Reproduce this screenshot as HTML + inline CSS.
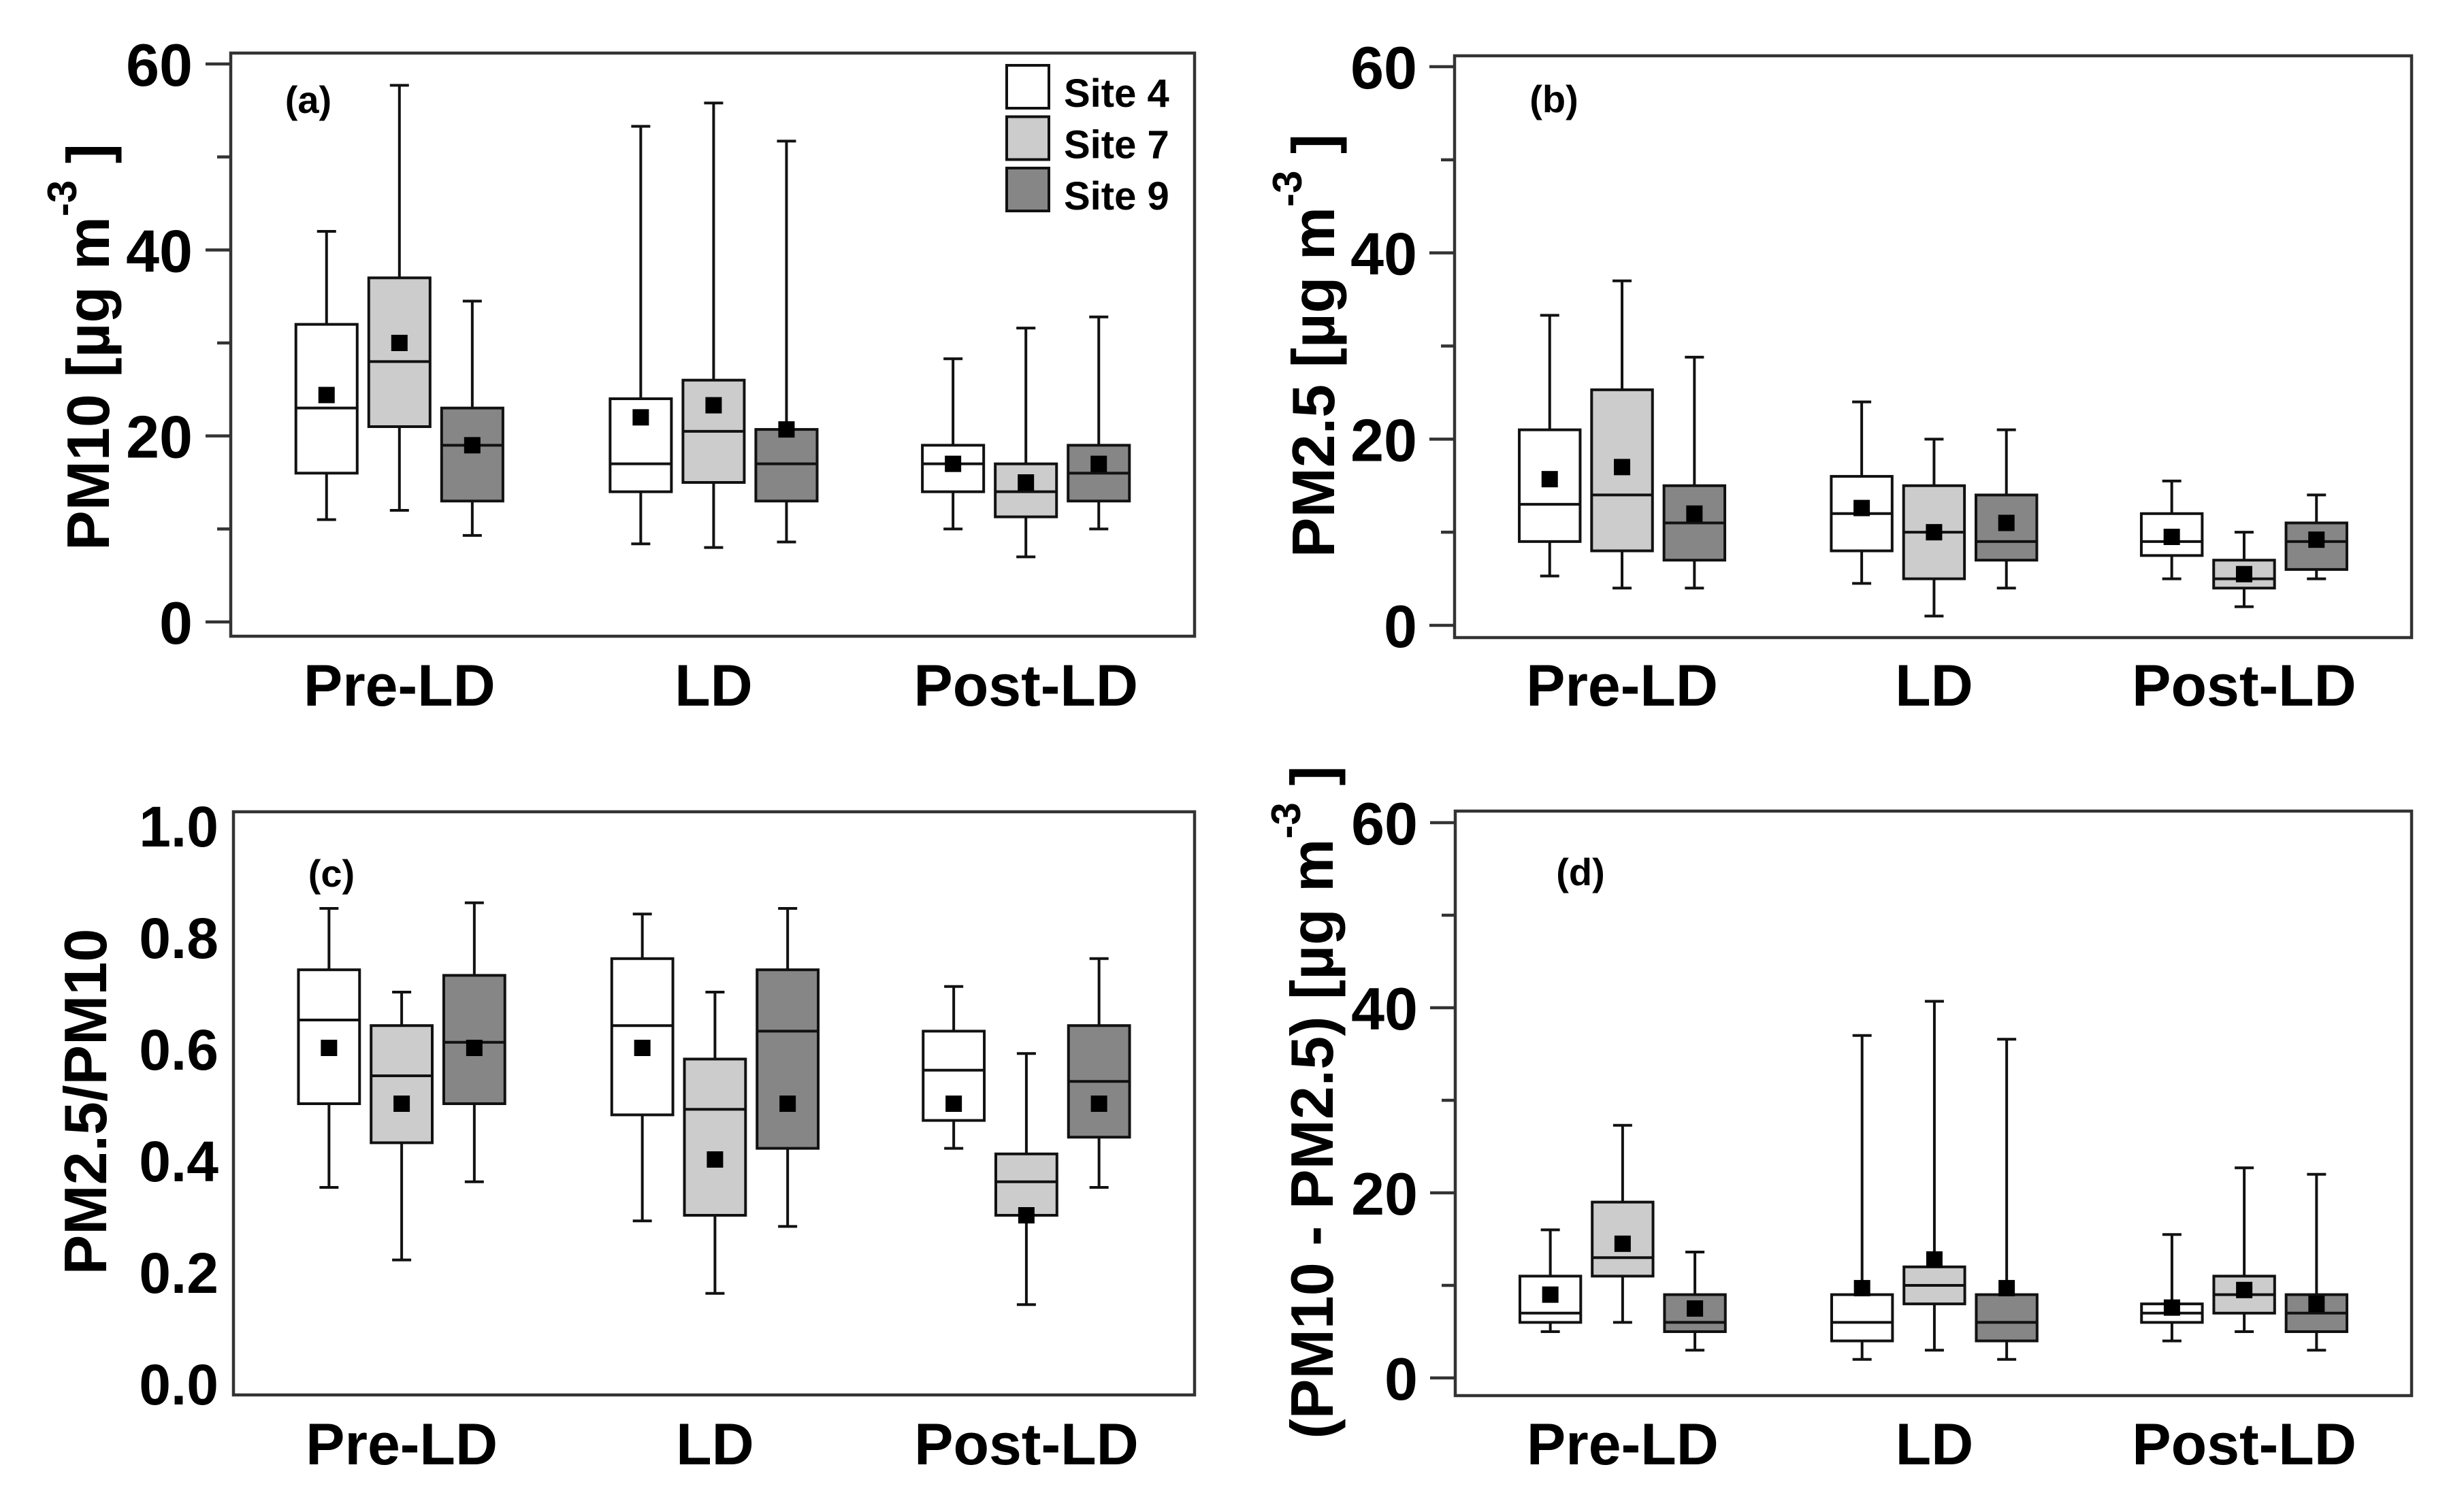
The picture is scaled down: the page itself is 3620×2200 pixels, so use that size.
<!DOCTYPE html>
<html><head><meta charset="utf-8"><style>
html,body{margin:0;padding:0;background:#fff}
svg{display:block}
text{font-family:"Liberation Sans",Arial,sans-serif;font-weight:bold;fill:#000}
</style></head><body>
<svg id="fig" width="3620" height="2200" viewBox="0 0 3620 2200" xmlns="http://www.w3.org/2000/svg"></svg>
<script>
const categories = ["Pre-LD","LD","Post-LD"];
const sites = ["Site 4","Site 7","Site 9"];
// each box: [max, q3, median, q1, min, mean], order: Pre(S4,S7,S9), LD(...), Post(...)
const pm10Data = [
 [42,32,23,16,11,24.4],[57.7,37,28,21,12,30],[34.5,23,19,13,9.3,19],
 [53.3,24,17,14,8.4,22],[55.8,26,20.5,15,8,23.3],[51.7,20.7,17,13,8.6,20.7],
 [28.3,19,17,14,10,17],[31.6,17,14,11.3,7,15],[32.8,19,16,13,10,17]];
const pm25Data = [
 [33.3,21,13,9,5.3,15.7],[37,25.3,14,8,4,17],[28.8,15,11,7,4,12],
 [24,16,12,8,4.5,12.6],[20,15,10,5,1,10],[21,14,9,7,4,11],
 [15.5,12,9,7.5,5,9.5],[10,7,5,4,2,5.5],[14,11,9,6,5,9.2]];
const ratioData = [
 [0.85,0.74,0.65,0.50,0.35,0.60],[0.70,0.64,0.55,0.43,0.22,0.50],[0.86,0.73,0.61,0.50,0.36,0.60],
 [0.84,0.76,0.64,0.48,0.29,0.60],[0.70,0.58,0.49,0.30,0.16,0.40],[0.85,0.74,0.63,0.42,0.28,0.50],
 [0.71,0.63,0.56,0.47,0.42,0.50],[0.59,0.41,0.36,0.30,0.14,0.30],[0.76,0.64,0.54,0.44,0.35,0.50]];
const coarseData = [
 [16,11,7,6,5,9],[27.3,19,13,11,6,14.5],[13.6,9,6,5,3,7.5],
 [37,9,6,4,2,9.7],[40.7,12,10,8,3,12.8],[36.6,9,6,4,2,9.7],
 [15.5,8,7,6,4,7.6],[22.7,11,9,7,5,9.5],[22,9,7,5,3,8]];
const ticks60 = [0,20,40,60];
const ticksMinor60 = [10,30,50];
const ticksRatio = [0.0,0.2,0.4,0.6,0.8,1.0];
const ticksRatioLabels = ["0.0","0.2","0.4","0.6","0.8","1.0"];

const NS="http://www.w3.org/2000/svg";
const svg=document.getElementById('fig');
const fills=["#ffffff","#cccccc","#868686"];
function mk(tag,attrs,parent){const e=document.createElementNS(NS,tag);for(const k in attrs)e.setAttribute(k,attrs[k]);(parent||svg).appendChild(e);return e;}
const centers=[0.175,0.501,0.825];

function panel(p){
  const g=mk('g',{});
  
  
  const y=v=>p.y0+(v-p.vmin)/(p.vmax-p.vmin)*(p.y1-p.y0);
  const W=p.right-p.left;
  const x=(ci,si)=>p.left+W*centers[ci]+(si-1)*W*0.0756;
  const frame=mk('rect',{x:p.left,y:p.top,width:W,height:p.bottom-p.top,fill:'none',stroke:'#333',"stroke-width":4.5},g);
  
  
  p.ticks.forEach((t,i)=>{
    if(p.showTicks) mk('line',{x1:p.left-37,x2:p.left,y1:y(t),y2:y(t),stroke:'#333',"stroke-width":4.5},g);
    const tl=mk('text',{x:p.left-p.labOff,y:y(t)+32,"text-anchor":"end","font-size":p.tickFont},g);
    tl.textContent=p.tickLabels[i];
    
    
  });
  (p.minor||[]).forEach(t=>mk('line',{x1:p.left-20,x2:p.left,y1:y(t),y2:y(t),stroke:'#333',"stroke-width":4.5},g));
  categories.forEach((c,ci)=>{
    const t=mk('text',{x:p.left+W*centers[ci],y:p.xlabY,"text-anchor":"middle","font-size":86},g);
    t.textContent=c;
    
    
  });
  const bw=W*0.0636;
  p.data.forEach((d,i)=>{
    const ci=Math.floor(i/3),si=i%3,cx=x(ci,si);
    const bg=mk('g',{},g);
    
    
    const ln={stroke:'#111',"stroke-width":4};
    mk('line',Object.assign({x1:cx,x2:cx,y1:y(d[0]),y2:y(d[1])},ln),bg);
    mk('line',Object.assign({x1:cx,x2:cx,y1:y(d[3]),y2:y(d[4])},ln),bg);
    mk('line',Object.assign({x1:cx-14,x2:cx+14,y1:y(d[0]),y2:y(d[0])},ln),bg);
    mk('line',Object.assign({x1:cx-14,x2:cx+14,y1:y(d[4]),y2:y(d[4])},ln),bg);
    mk('rect',Object.assign({x:cx-bw/2,y:y(d[1]),width:bw,height:y(d[3])-y(d[1]),fill:fills[si]},ln),bg);
    mk('line',Object.assign({x1:cx-bw/2,x2:cx+bw/2,y1:y(d[2]),y2:y(d[2])},ln),bg);
    mk('rect',{x:cx-12,y:y(d[5])-12,width:24,height:24,fill:'#000'},bg);
  });
  const pl=mk('text',{x:p.lab[0],y:p.lab[1],"text-anchor":"middle","font-size":56},g);
  pl.textContent=p.label;
  
  
  const yt=mk('text',{transform:`translate(${p.yt[0]},${p.yt[1]}) rotate(-90)`,"text-anchor":"middle","font-size":88},g);
  
  
  if(p.sup){
    yt.innerHTML=p.title+'<tspan dy="-48" font-size="60">-3</tspan><tspan dy="48"> ]</tspan>';
  } else yt.textContent=p.title;
}

panel({name:'panel-a-pm10',left:339,right:1755,top:78,bottom:935,y0:914,y1:94,vmin:0,vmax:60,showTicks:true,labOff:56,tickFont:88,
  ticks:ticks60,tickLabels:ticks60.map(String),minor:ticksMinor60,xlabY:1037,
  data:pm10Data,label:'(a)',lab:[453,166],title:'PM10 [µg m',sup:true,yt:[160,510]});
panel({name:'panel-b-pm25',left:2137,right:3543,top:82,bottom:937,y0:919,y1:98,vmin:0,vmax:60,showTicks:true,labOff:55,tickFont:88,
  ticks:ticks60,tickLabels:ticks60.map(String),minor:ticksMinor60,xlabY:1037,
  data:pm25Data,label:'(b)',lab:[2283,165],title:'PM2.5 [µg m',sup:true,yt:[1960,508]});
panel({name:'panel-c-ratio',left:343,right:1755,top:1193,bottom:2050,y0:2032,y1:1212,vmin:0,vmax:1,showTicks:false,labOff:22,tickFont:84,
  ticks:ticksRatio,tickLabels:ticksRatioLabels,minor:[],xlabY:2152,
  data:ratioData,label:'(c)',lab:[487,1303],title:'PM2.5/PM10',sup:false,yt:[156,1619]});
panel({name:'panel-d-coarse',left:2138,right:3543,top:1192,bottom:2051,y0:2025,y1:1209,vmin:0,vmax:60,showTicks:true,labOff:55,tickFont:88,
  ticks:ticks60,tickLabels:ticks60.map(String),minor:ticksMinor60,xlabY:2152,
  data:coarseData,label:'(d)',lab:[2322,1301],title:'(PM10 - PM2.5) [µg m',sup:true,yt:[1958,1620]});

// legend
const lg=mk('g',{});


sites.forEach((s,i)=>{
  const e=mk('g',{},lg);
  
  
  const yy=96+i*75.5;
  mk('rect',{x:1479,y:yy,width:62,height:63,fill:fills[i],stroke:'#111',"stroke-width":4},e);
  const t=mk('text',{x:1563,y:yy+61,"font-size":58},e);
  t.textContent=s;
});
</script>
</body></html>
